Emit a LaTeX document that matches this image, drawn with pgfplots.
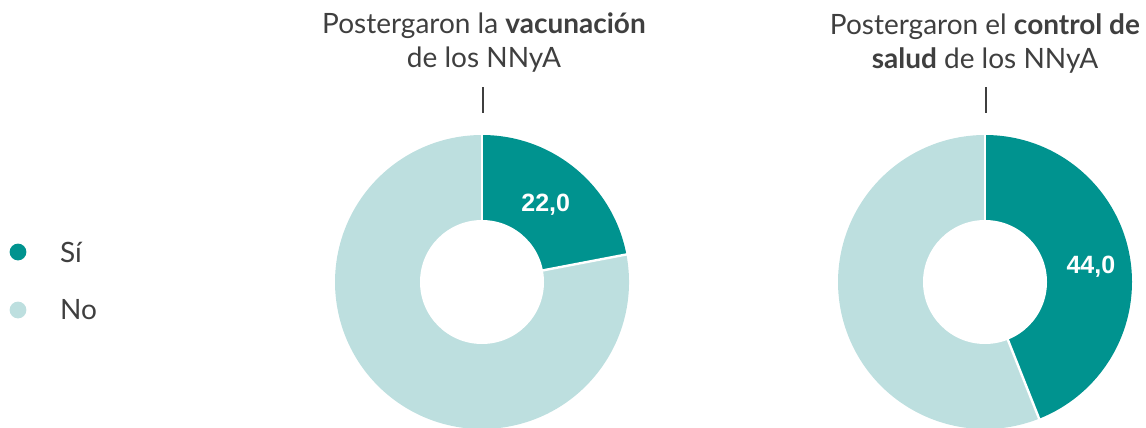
\documentclass[border=0pt]{standalone}
\usepackage{pgfplots}
\usepackage{pgfplotstable}
\pgfplotsset{compat=1.18}
\usepackage{fontspec}
\setmainfont{Lato}
\newfontfamily\numfont{Liberation Sans}
\definecolor{si}{HTML}{00938F}
\definecolor{no}{HTML}{BDDFDF}
\definecolor{txt}{HTML}{3F3F3F}

\pgfplotstableread{
chart si no
1 22.0 78.0
2 44.0 56.0
}\donutdata

\pgfplotstablegetelem{0}{si}\of\donutdata \let\siA\pgfplotsretval
\pgfplotstablegetelem{1}{si}\of\donutdata \let\siB\pgfplotsretval
\pgfmathsetmacro{\endA}{90-3.6*\siA}
\pgfmathsetmacro{\endB}{90-3.6*\siB}
\pgfmathsetmacro{\midA}{90-1.8*\siA}
\pgfmathsetmacro{\midB}{90-1.8*\siB}

\begin{document}
\begin{tikzpicture}
\begin{axis}[
  width=573pt, height=214pt, scale only axis,
  xmin=0, xmax=1146, ymin=0, ymax=428, y dir=reverse,
  hide axis, clip=true,
  /pgf/number format/assume math mode=true,
]
\draw[draw=none] (rel axis cs:0,0) rectangle (rel axis cs:1,1);
% donut 1
\fill[no] (axis cs:482,282) -- ++(\endA:73.5pt) arc[start angle=\endA, end angle=-270, radius=73.5pt] -- cycle;
\fill[si] (axis cs:482,282) -- ++(90:73.5pt) arc[start angle=90, end angle=\endA, radius=73.5pt] -- cycle;
\draw[white, line width=1.2pt] (axis cs:482,282) -- ++(90:75pt);
\draw[white, line width=1.2pt] (axis cs:482,282) -- ++(\endA:75pt);
\fill[white] (axis cs:482,282) circle[radius=31pt];
\path (axis cs:482,282) ++(\midA:50pt) node[white, font=\numfont\bfseries\fontsize{12.5}{14}\selectfont] {\pgfmathprintnumber[fixed, fixed zerofill, precision=1, use comma, assume math mode=true]{\siA}};
% donut 2
\fill[no] (axis cs:985,282) -- ++(\endB:73.5pt) arc[start angle=\endB, end angle=-270, radius=73.5pt] -- cycle;
\fill[si] (axis cs:985,282) -- ++(90:73.5pt) arc[start angle=90, end angle=\endB, radius=73.5pt] -- cycle;
\draw[white, line width=1.2pt] (axis cs:985,282) -- ++(90:75pt);
\draw[white, line width=1.2pt] (axis cs:985,282) -- ++(\endB:75pt);
\fill[white] (axis cs:985,282) circle[radius=31pt];
\path (axis cs:985,282) ++(\midB-2.5:53.5pt) node[white, font=\numfont\bfseries\fontsize{12.5}{14}\selectfont] {\pgfmathprintnumber[fixed, fixed zerofill, precision=1, use comma, assume math mode=true]{\siB}};
% titles
\node[txt, align=center, font=\fontsize{14}{17}\selectfont] at (axis cs:484,43) {Postergaron la \textbf{vacunación}\\de los NNyA};
\node[txt, align=center, font=\fontsize{14}{17}\selectfont] at (axis cs:985,43) {Postergaron el \textbf{control de}\\\textbf{salud} de los NNyA};
\draw[txt, line width=1.2pt] (axis cs:483,87) -- (axis cs:483,113);
\draw[txt, line width=1.2pt] (axis cs:986,87) -- (axis cs:986,113);
% legend
\fill[si] (axis cs:18,252) circle[radius=4.2pt];
\fill[no] (axis cs:18,310) circle[radius=4.2pt];
\node[txt, anchor=west, font=\fontsize{14}{16}\selectfont] at (axis cs:53,252) {Sí};
\node[txt, anchor=west, font=\fontsize{14}{16}\selectfont] at (axis cs:53,310) {No};
\end{axis}
\end{tikzpicture}
\end{document}
